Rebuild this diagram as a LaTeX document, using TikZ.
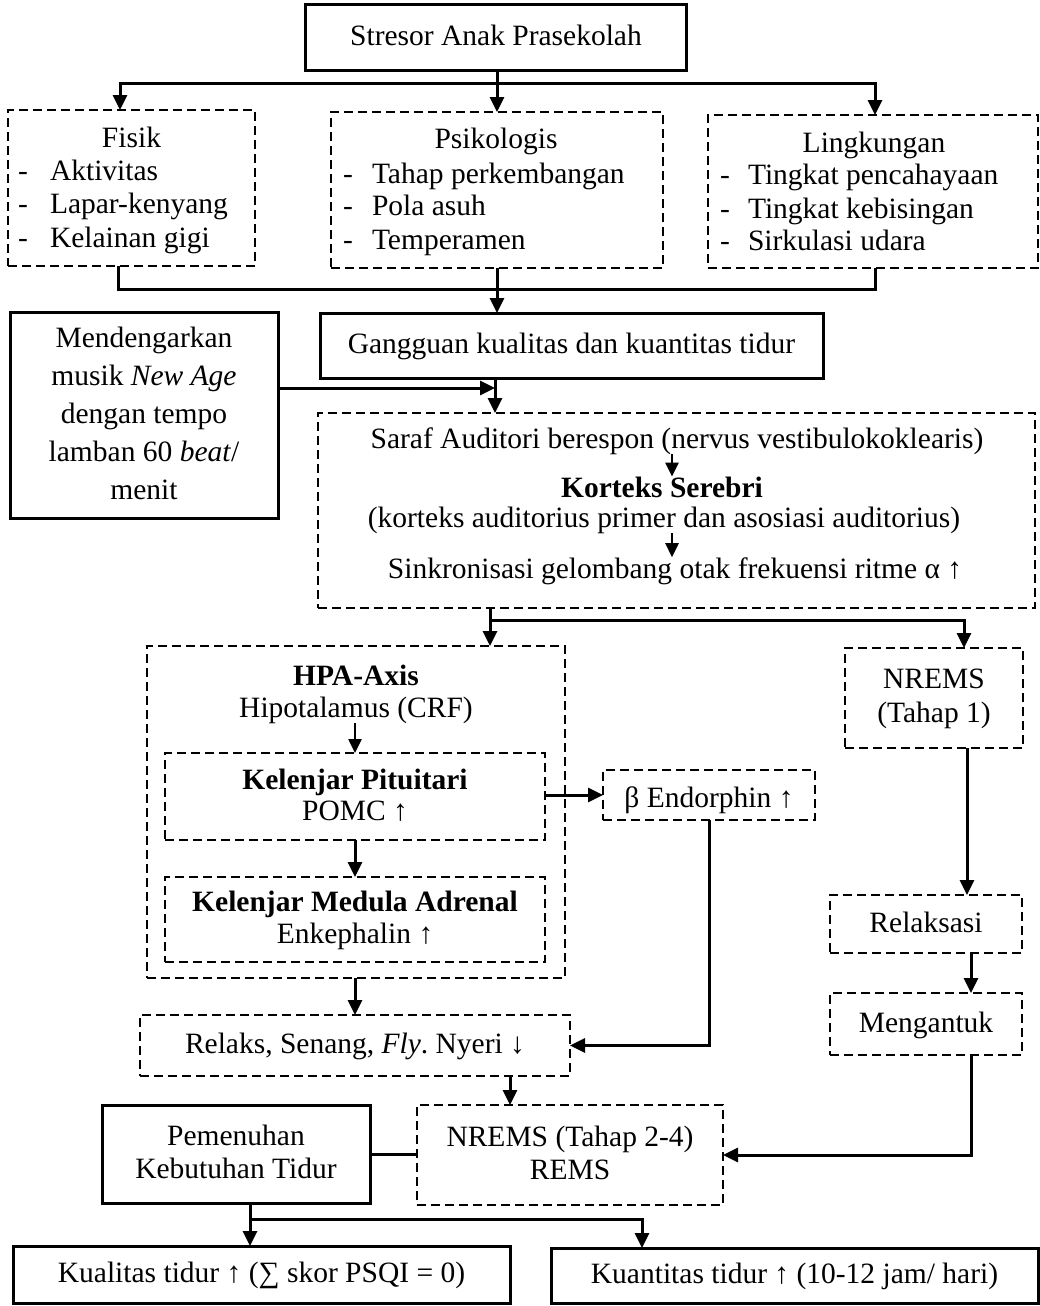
\documentclass[tikz,border=0pt]{standalone}
\usepackage{fontspec}
\setmainfont{Liberation Serif}
\usetikzlibrary{arrows.meta,calc}
\newcommand\ft{\rule{0pt}{22pt}}
\newcommand\fb{\rule[-6pt]{0pt}{6pt}}
\newcommand\fs[1]{\fontsize{29.5}{#1}\selectfont}
\frenchspacing
\begin{document}
\begin{tikzpicture}[x=1pt,y=-1pt,
  base/.style={font=\fs{33}, inner sep=0pt, outer sep=0pt},
  sbox/.style={base, draw, line width=3pt, align=center},
  dbox/.style={base, draw, line width=2.2pt, dash pattern=on 9pt off 5pt, align=center},
  one/.style={text height=22pt, text depth=6pt},
  txt/.style={base, anchor=base},
  txw/.style={base, anchor=base west},
  conn/.style={line width=3pt},
  arr/.style={line width=3pt, -{Triangle[length=15pt,width=14pt]}},
  darr/.style={line width=3pt, {Triangle[length=15pt,width=14pt]}-{Triangle[length=15pt,width=14pt]}},
  sarr/.style={line width=2.5pt, -{Triangle[length=14pt,width=13pt]}}
]
\useasboundingbox (0,0) rectangle (1040,1306);

% ---------- boxes ----------
\node[sbox,one,minimum width=381pt,minimum height=66pt] (stresor) at (496,38) {Stresor Anak Prasekolah};
\node[dbox,minimum width=247pt,minimum height=156pt] (fisik) at (131.5,188) {};
\node[dbox,minimum width=332pt,minimum height=156pt] (psik) at (497,190) {};
\node[dbox,minimum width=330pt,minimum height=153pt] (ling) at (873,191.5) {};
\node[sbox,one,minimum width=503pt,minimum height=65pt] (gang) at (571.5,345.5) {Gangguan kualitas dan kuantitas tidur};
\node[sbox,font=\fs{38},minimum width=268pt,minimum height=206pt] (mend) at (144,415)
  {\ft Mendengarkan\\ musik \textit{New Age}\\ dengan tempo\\ lamban 60 \textit{beat}/\\ menit\fb};
\node[dbox,minimum width=717pt,minimum height=195pt] (saraf) at (676.5,510.5) {};
\node[dbox,minimum width=418pt,minimum height=332pt] (hpa) at (356,812) {};
\node[dbox,font=\fs{31},minimum width=380pt,minimum height=87pt] (pit) at (355,796.5)
  {\ft\textbf{Kelenjar Pituitari}\\ POMC ↑\fb};
\node[dbox,font=\fs{32},minimum width=380pt,minimum height=85pt] (med) at (355,919.5)
  {\ft\textbf{Kelenjar Medula Adrenal}\\ Enkephalin ↑\fb};
\node[dbox,text height=26pt,text depth=2pt,minimum width=212pt,minimum height=50pt] (endo) at (709,795) {β Endorphin ↑};
\node[dbox,font=\fs{34},minimum width=178pt,minimum height=100pt] (nr1) at (934,698) {\ft NREMS\\ (Tahap 1)\fb};
\node[dbox,one,minimum width=192pt,minimum height=58pt] (rlx) at (926,924) {Relaksasi};
\node[dbox,one,minimum width=192pt,minimum height=62pt] (meng) at (926,1024) {Mengantuk};
\node[dbox,one,minimum width=430pt,minimum height=61pt] (relaks) at (355,1045.5) {Relaks, Senang, \textit{Fly}. Nyeri ↓};
\node[dbox,minimum width=306pt,minimum height=100pt] (nr2) at (570,1155) {\ft NREMS (Tahap 2-4)\\ REMS\fb};
\node[sbox,minimum width=268pt,minimum height=98pt] (pem) at (236,1154) {\ft Pemenuhan\\ Kebutuhan Tidur\fb};
\node[sbox,one,minimum width=497pt,minimum height=57pt] (kual) at (261.5,1274.5) {Kualitas tidur ↑ (∑ skor PSQI = 0)};
\node[sbox,one,minimum width=487pt,minimum height=55pt] (kuan) at (794.5,1275.5) {Kuantitas tidur ↑ (10-12 jam/ hari)};

% ---------- texts of list boxes ----------
\node[txt] (fT) at (131.5,147) {Fisik};
\node[txw] (fd1) at (18,180) {-}; \node[txw] (fi1) at (50,180) {Aktivitas};
\node[txw] (fd2) at (18,213) {-}; \node[txw] (fi2) at (50,213) {Lapar-kenyang};
\node[txw] (fd3) at (18,247) {-}; \node[txw] (fi3) at (50,247) {Kelainan gigi};

\node[txt] (pT) at (496,148) {Psikologis};
\node[txw] (pd1) at (343,183) {-}; \node[txw] (pi1) at (372,183) {Tahap perkembangan};
\node[txw] (pd2) at (343,215) {-}; \node[txw] (pi2) at (372,215) {Pola asuh};
\node[txw] (pd3) at (343,249) {-}; \node[txw] (pi3) at (372,249) {Temperamen};

\node[txt] (lT) at (874,152) {Lingkungan};
\node[txw] (ld1) at (720,184) {-}; \node[txw] (li1) at (748,184) {Tingkat pencahayaan};
\node[txw] (ld2) at (720,218) {-}; \node[txw] (li2) at (748,218) {Tingkat kebisingan};
\node[txw] (ld3) at (720,250) {-}; \node[txw] (li3) at (748,250) {Sirkulasi udara};

% ---------- texts of Saraf box ----------
\node[txt] (s1) at (677,448) {Saraf Auditori berespon (nervus vestibulokoklearis)};
\node[txt,font=\fs{33}\bfseries] (s2) at (662,497) {Korteks Serebri};
\node[txt] (s3) at (664,527) {(korteks auditorius primer dan asosiasi auditorius)};
\node[txt] (s4) at (675,578) {Sinkronisasi gelombang otak frekuensi ritme α ↑};

% ---------- texts of HPA box ----------
\node[txt,font=\fs{33}\bfseries] (hpaT) at (356,685) {HPA-Axis};
\node[txt] (hipo) at (356,717) {Hipotalamus (CRF)};

% ---------- connectors ----------
\coordinate (sL) at (120,83);
\coordinate (sR) at (875,83);
\draw[conn] (stresor.south -| psik.north) -- (psik.north |- sL);
\draw[darr] (sL |- fisik.north) -- (sL) -- (sR) -- (sR |- ling.north);
\draw[arr] (psik.north |- sL) -- (psik.north);

\coordinate (mL) at (118,289);
\coordinate (mR) at (875,289);
\draw[conn] (fisik.south -| mL) -- (mL) -- (mR) -- (ling.south -| mR);
\draw[arr] (psik.south) -- (psik.south |- gang.north);

\coordinate (vj) at (495,388);
\draw[arr] (mend.east |- vj) -- (vj);
\draw[arr] (gang.south -| vj) -- (saraf.north -| vj);

\coordinate (ax) at (672,470);
\draw[sarr] (s1.south -| ax) -- (s2.north -| ax);
\draw[sarr] (s3.south -| ax) -- (s4.north -| ax);

\coordinate (b1) at (490,620);
\coordinate (b2) at (964,620);
\draw[arr] (saraf.south -| b1) -- (hpa.north -| b1);
\draw[arr] (b1) -- (b2) -- (b2 |- nr1.north);

\draw[sarr] (hipo.south -| pit.north) -- (pit.north);
\draw[arr] (pit.south) -- (med.north);
\draw[arr] (hpa.south -| relaks.north) -- (relaks.north);
\draw[arr] (pit.east |- endo.west) -- (endo.west);
\draw[arr] (endo.south) |- (relaks.east);

\coordinate (rx) at (510,1090);
\draw[arr] (relaks.south -| rx) -- (nr2.north -| rx);

\coordinate (nx) at (967,820);
\draw[arr] (nr1.south -| nx) -- (rlx.north -| nx);
\coordinate (nx2) at (971,970);
\draw[arr] (rlx.south -| nx2) -- (meng.north -| nx2);
\draw[arr] (meng.south -| nx2) |- (nr2.east);

\draw[conn] (pem.east) -- (pem.east -| nr2.west);

\coordinate (kL) at (250,1219);
\coordinate (kR) at (642,1219);
\draw[arr] (pem.south -| kL) -- (kL |- kual.north);
\draw[arr] (kL) -- (kR) -- (kR |- kuan.north);
\end{tikzpicture}
\end{document}
